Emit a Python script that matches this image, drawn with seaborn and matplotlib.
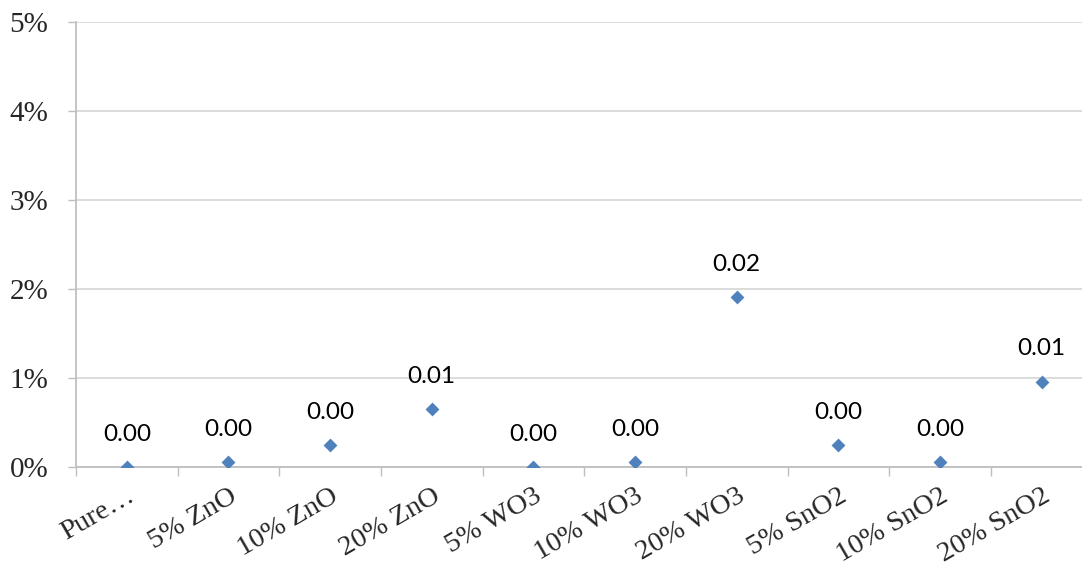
import matplotlib.pyplot as plt
import matplotlib.ticker as mticker
import seaborn as sns
import pandas as pd
import numpy as np

sns.set_theme(style="white")

categories = ['Pure…', '5% ZnO', '10% ZnO', '20% ZnO', '5% WO3', '10% WO3',
              '20% WO3', '5% SnO2', '10% SnO2', '20% SnO2']
values = [0.0, 0.00055, 0.0025, 0.0065, 0.0, 0.00055, 0.0191, 0.0025, 0.00055, 0.0096]

df = pd.DataFrame({'cat': categories, 'val': values})
df['x'] = np.arange(len(df))

W, H = 1082, 569
fig = plt.figure(figsize=(W / 100, H / 100), dpi=100)
# plot area runs past the right edge, like the cropped original
ax = fig.add_axes([76 / W, 102 / H, 1016.6 / W, 445 / H])

sns.scatterplot(data=df, x='x', y='val', marker='D', s=50, color='#4F81BD',
                linewidth=0, ax=ax, legend=False, zorder=3)

for xi, v in zip(df['x'], df['val']):
    ax.annotate(f'{v:.2f}', (xi, v), xytext=(0, 16), textcoords='offset points',
                ha='center', va='bottom', fontsize=17.5, family='Lato', color='black')

ax.set_xlim(-0.5, len(df) - 0.5)
ax.set_ylim(0, 0.05)
ax.yaxis.set_major_locator(mticker.MultipleLocator(0.01))
ax.yaxis.set_major_formatter(mticker.PercentFormatter(1.0, decimals=0))
ax.grid(axis='y', color='#D9D9D9', linewidth=1.3)
ax.set_axisbelow(True)

ax.set_xticks(df['x'])
ax.set_xticklabels(df['cat'], rotation=30, ha='right', rotation_mode='anchor',
                   family='Liberation Serif', fontsize=20.5)
ax.set_xticks(np.arange(-0.5, len(df), 1.0), minor=True)
ax.tick_params(axis='x', which='major', length=0, pad=12)
ax.tick_params(axis='x', which='minor', length=6.5, width=1, color='#BFBFBF',
               direction='out', bottom=True)
ax.tick_params(axis='y', length=6, width=1, color='#BFBFBF', direction='out',
               left=True, pad=14)
for lab in ax.get_yticklabels():
    lab.set_family('Liberation Serif')
    lab.set_fontsize(21)

for s in ['top', 'right']:
    ax.spines[s].set_visible(False)
for s in ['left', 'bottom']:
    ax.spines[s].set_color('#BFBFBF')
    ax.spines[s].set_linewidth(1.3)

ax.set_xlabel('')
ax.set_ylabel('')

fig.savefig('out.png', dpi=100)
